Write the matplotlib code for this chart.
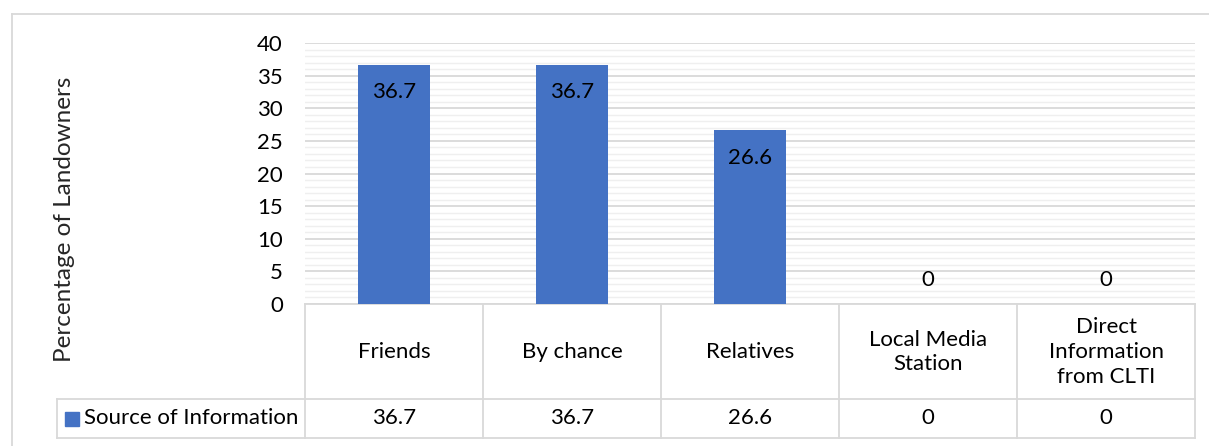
import matplotlib
matplotlib.use("Agg")
import matplotlib.pyplot as plt
from matplotlib.transforms import blended_transform_factory
from matplotlib.lines import Line2D
from matplotlib.patches import Rectangle

categories = ["Friends", "By chance", "Relatives", "Local Media\nStation",
              "Direct\nInformation\nfrom CLTI"]
values = [36.7, 36.7, 26.6, 0, 0]
value_labels = ["36.7", "36.7", "26.6", "0", "0"]
series_name = "Source of Information"
y_label = "Percentage of Landowners"
y_major_ticks = [0, 5, 10, 15, 20, 25, 30, 35, 40]

plt.rcParams['font.family'] = ['Lato', 'DejaVu Sans']

W, H = 1209, 446
BAR = "#4472C4"
GRID = "#d9d9d9"
MINOR = "#efefef"
FS = 16

fig = plt.figure(figsize=(W / 100, H / 100), dpi=100)


def fx(px):
    return px / W


def fy(py):
    return 1 - py / H


ax = fig.add_axes([fx(305), fy(304), fx(1195) - fx(305), fy(43) - fy(304)])
xs = list(range(len(categories)))
ax.bar(xs, values, width=0.4, color=BAR, zorder=3)
ax.set_xlim(-0.5, len(categories) - 0.5)
ax.set_ylim(0, 40)
ax.set_yticks(y_major_ticks)
ax.set_yticks(range(0, 41), minor=True)
ax.grid(axis='y', which='minor', color=MINOR, lw=1.0, zorder=0)
ax.grid(axis='y', which='major', color=GRID, lw=1.3, zorder=1)
ax.tick_params(axis='y', which='both', length=0, labelsize=FS, pad=16)
ax.set_xticks([])
for s in ['top', 'right', 'left']:
    ax.spines[s].set_visible(False)
ax.spines['bottom'].set_color(GRID)
ax.spines['bottom'].set_linewidth(1.3)

for i, (v, lab) in enumerate(zip(values, value_labels)):
    off = -19.5 if v > 0 else 17
    ax.annotate(lab, (i, v), xytext=(0, off), textcoords='offset points',
                ha='center', va='center', fontsize=FS, color='black', zorder=4)

fig.text(fx(65), fy(219), y_label, rotation=90, ha='center', va='center',
         fontsize=17.5, color='#262626')

# data table
tr = blended_transform_factory(ax.transData, fig.transFigure)
y_top, y_mid, y_bot = fy(304), fy(399), fy(438)
for i in range(len(categories) + 1):
    fig.add_artist(Line2D([i - 0.5, i - 0.5], [y_top, y_bot], transform=tr,
                          color=GRID, lw=1.3))
for yy in (y_mid, y_bot):
    fig.add_artist(Line2D([-0.5, len(categories) - 0.5], [yy, yy], transform=tr,
                          color=GRID, lw=1.3))
    fig.add_artist(Line2D([fx(57), fx(305)], [yy, yy], transform=fig.transFigure,
                          color=GRID, lw=1.3))
fig.add_artist(Line2D([fx(57), fx(57)], [y_mid, y_bot], transform=fig.transFigure,
                      color=GRID, lw=1.3))

for i, (c, lab) in enumerate(zip(categories, value_labels)):
    fig.text(i, fy(352), c, transform=tr, ha='center', va='center',
             fontsize=FS, linespacing=1.3)
    fig.text(i, fy(418), lab, transform=tr, ha='center', va='center', fontsize=FS)

fig.add_artist(Rectangle((fx(65), fy(426)), fx(79) - fx(65), fy(412) - fy(426),
                         transform=fig.transFigure, color=BAR))
fig.text(fx(84), fy(418), series_name, ha='left', va='center', fontsize=FS)

# outer chart frame
fig.add_artist(Line2D([fx(12), fx(12)], [fy(14), 0], transform=fig.transFigure,
                      color=GRID, lw=1.3))
fig.add_artist(Line2D([fx(12), 1], [fy(14), fy(14)], transform=fig.transFigure,
                      color=GRID, lw=1.3))

fig.savefig("out.png", dpi=100)
